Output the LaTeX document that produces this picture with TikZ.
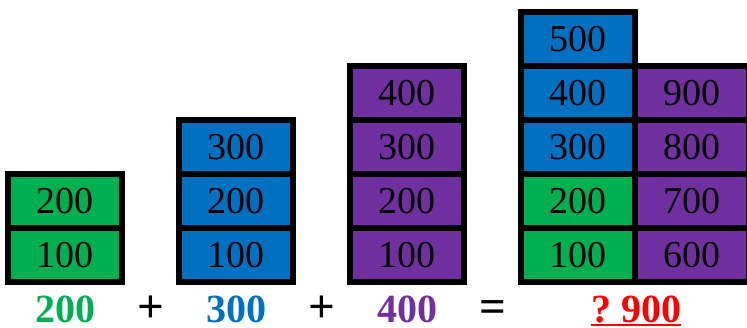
\documentclass[tikz,border=0pt]{standalone}
\usepackage{fontspec}
\setmainfont{Liberation Serif}
\definecolor{cgreen}{HTML}{00B050}
\definecolor{cblue}{HTML}{0070C0}
\definecolor{cpurple}{HTML}{7030A0}
\definecolor{cred}{HTML}{FF0000}
\tikzset{
  cell/.style={draw=black, line width=6pt, minimum width=114pt, minimum height=54pt,
    inner sep=0pt, font=\fontsize{38}{38}\selectfont, text=black},
  gcell/.style={cell, fill=cgreen},
  bcell/.style={cell, fill=cblue},
  pcell/.style={cell, fill=cpurple},
  sumlabel/.style={anchor=base, inner sep=0pt, text depth=0pt, font=\fontsize{40}{40}\selectfont\bfseries},
  oplabel/.style={anchor=base, inner sep=0pt, text depth=0pt, font=\fontsize{47}{47}\selectfont\bfseries}
}
\begin{document}
\begin{tikzpicture}[x=1pt,y=-1pt]
\useasboundingbox[fill=white] (0,0) rectangle (747,327);
% block 1
\node[gcell] (a0) at (65,255) {100};
\node[gcell] (a1) at (65,201) {200};
% block 2
\node[bcell] (b0) at (236,255) {100};
\node[bcell] (b1) at (236,201) {200};
\node[bcell] (b2) at (236,147) {300};
% block 3
\node[pcell] (c0) at (407,255) {100};
\node[pcell] (c1) at (407,201) {200};
\node[pcell] (c2) at (407,147) {300};
\node[pcell] (c3) at (407,93) {400};
% block 4 left
\node[gcell] (d0) at (578,255) {100};
\node[gcell] (d1) at (578,201) {200};
\node[bcell] (d2) at (578,147) {300};
\node[bcell] (d3) at (578,93) {400};
\node[bcell] (d4) at (578,39) {500};
% block 4 right
\node[pcell] (e0) at (692,255) {600};
\node[pcell] (e1) at (692,201) {700};
\node[pcell] (e2) at (692,147) {800};
\node[pcell] (e3) at (692,93) {900};
% labels
\node[sumlabel, text=cgreen] (l1) at (65,322) {200};
\node[oplabel] (p1) at (151,322) {+};
\node[sumlabel, text=cblue] (l2) at (236,322) {300};
\node[oplabel] (p2) at (322,322) {+};
\node[sumlabel, text=cpurple] (l3) at (407,322) {400};
\node[oplabel] (eq) at (493,322) {=};
\node[sumlabel, text=cred] (l4) at (636,322) {?\ 900};
\draw[cred, line width=2pt] ([yshift=-3pt]l4.base west) -- ([yshift=-3pt]l4.base east);
\end{tikzpicture}
\end{document}
